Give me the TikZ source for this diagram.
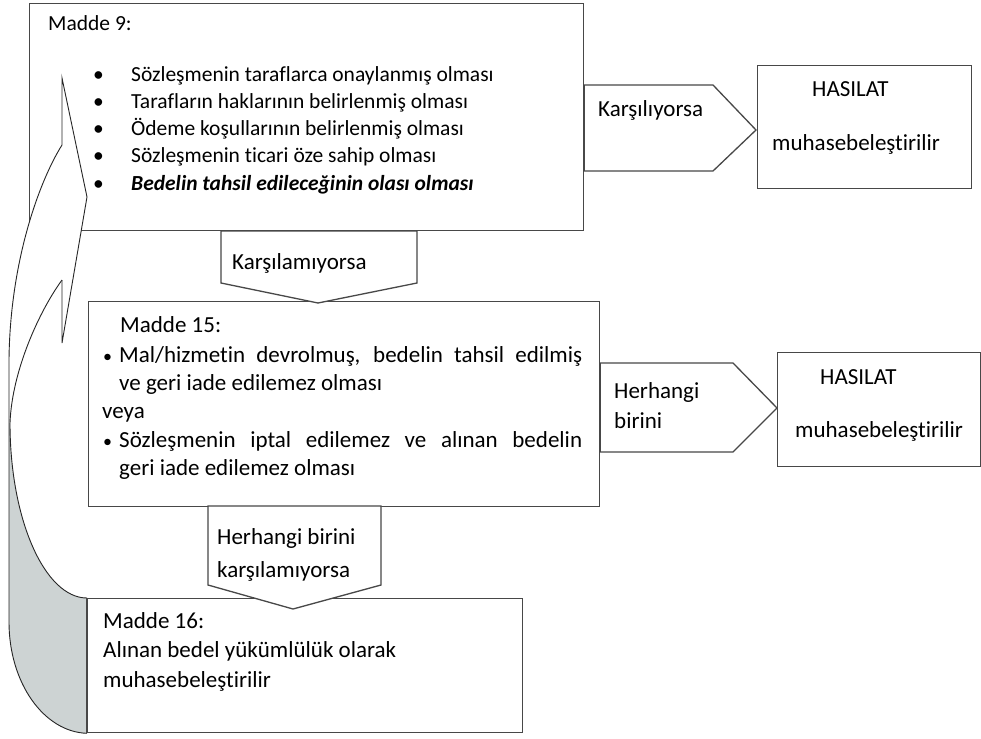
\documentclass[tikz,border=0pt]{standalone}
\usepackage{fontspec}
\setmainfont{Carlito}[Ligatures={NoCommon}]
\definecolor{lc}{RGB}{72,72,72}
\definecolor{gr}{RGB}{205,211,211}
\begin{document}
\begin{tikzpicture}[x=1pt,y=-1pt,
  box/.style={draw=lc, line width=1.3pt, fill=white, rectangle, inner sep=0pt, anchor=north west},
  barrow/.style={draw=lc, line width=1.3pt, fill=white, line join=miter},
  carrow/.style={draw=black!85, line width=0.9pt},
  txt/.style={anchor=base west, inner sep=0pt, font=\fontsize{23}{28}\selectfont},
  stxt/.style={anchor=base west, inner sep=0pt, font=\fontsize{21.5}{27}\selectfont}]
\useasboundingbox (0,0) rectangle (981,738);
\fill[white] (0,0) rectangle (981,738);
% boxes
\node[box, minimum width=554pt, minimum height=227pt] (m9) at (29,3) {};
\node[box, minimum width=214pt, minimum height=123pt] (h1) at (757,65) {};
\node[box, minimum width=511pt, minimum height=205pt] (m15) at (88,301) {};
\node[box, minimum width=203pt, minimum height=114pt] (h2) at (777,352) {};
\node[box, minimum width=435pt, minimum height=134pt] (m16) at (87,598) {};
% block arrows
\draw[barrow] (m9.east |- 0,85) -- (713,85) -- (756,130) -- (713,171) -- (m9.east |- 0,171) -- cycle;
\draw[barrow] (221,231) -- (417,231) -- (417,283) -- (318,303) -- (221,283) -- cycle;
\draw[barrow] (m15.east |- 0,363) -- (733,363) -- (777,408) -- (733,452) -- (m15.east |- 0,452) -- cycle;
\draw[barrow] (208,506) -- (381,506) -- (381,585) -- (293,609) -- (208,585) -- cycle;
% curved arrow
\fill[white] (62,145) -- (62,78) -- (87,197) -- (62,343) -- (62,280)
  .. controls (40,310) and (12,370) .. (10,423) -- (9,423) -- (9,360)
  .. controls (10,260) and (40,180) .. (62,145) -- cycle;
\fill[gr] (10,423) .. controls (10,520) and (45,598) .. (m16.north west)
  -- (m16.south west) .. controls (44,732) and (9,683) .. (9,622) -- (9,423) -- cycle;
\draw[carrow] (62,145) .. controls (40,180) and (10,260) .. (9,360) -- (9,622)
  .. controls (9,683) and (44,732) .. (m16.south west);
\draw[carrow] (62,280) .. controls (40,310) and (12,370) .. (10,423)
  .. controls (10,520) and (45,598) .. (m16.north west);
\draw[carrow, line join=miter] (62,145) -- (62,78) -- (87,197) -- (62,343) -- (62,280);
\draw[draw=lc, line width=1.3pt] (m16.north west) -- (m16.south west);
% texts Madde 9
\node[stxt] (t9) at (48,31) {Madde 9:};
\node[stxt] (b1) at (93,82) {•};
\node[stxt] (b2) at (93,109) {•};
\node[stxt] (b3) at (93,136) {•};
\node[stxt] (b4) at (93,163) {•};
\node[stxt] (b5) at (93,190) {•};
\node[stxt] (i1) at (131,82) {Sözleşmenin taraflarca onaylanmış olması};
\node[stxt] (i2) at (131,109) {Tarafların haklarının belirlenmiş olması};
\node[stxt] (i3) at (131,136) {Ödeme koşullarının belirlenmiş olması};
\node[stxt] (i4) at (131,163) {Sözleşmenin ticari öze sahip olması};
\node[stxt] (i5) at (131,190) {\bfseries\itshape Bedelin tahsil edileceğinin olası olması};
% right arrow texts
\node[txt] (k1) at (598,117) {Karşılıyorsa};
\node[txt] (hs1) at (812,97) {HASILAT};
\node[txt] (mu1) at (772,151) {muhasebeleştirilir};
\node[txt] (k2) at (232,269) {Karşılamıyorsa};
% Madde 15
\node[txt] (t15) at (120,332) {Madde 15:};
\node[txt] (c1) at (103,362) {\fontsize{18}{20}\selectfont •};
\node[txt] (l1) at (119,362) {\makebox[463pt][s]{Mal/hizmetin devrolmuş, bedelin tahsil edilmiş}};
\node[txt] (l2) at (119,390) {ve geri iade edilemez olması};
\node[txt] (l3) at (102,418) {veya};
\node[txt] (c2) at (103,447) {\fontsize{18}{20}\selectfont •};
\node[txt] (l4) at (119,447) {\makebox[463pt][s]{Sözleşmenin iptal edilemez ve alınan bedelin}};
\node[txt] (l5) at (119,475) {geri iade edilemez olması};
\node[txt] (r1) at (614,398) {Herhangi};
\node[txt] (r2) at (614,428) {birini};
\node[txt] (hs2) at (820,384) {HASILAT};
\node[txt] (mu2) at (795,437) {muhasebeleştirilir};
\node[txt] (d1) at (217,544) {Herhangi birini};
\node[txt] (d2) at (217,577) {karşılamıyorsa};
% Madde 16
\node[txt] (t16) at (103,628) {Madde 16:};
\node[txt] (n1) at (103,657) {Alınan bedel yükümlülük olarak};
\node[txt] (n2) at (103,687) {muhasebeleştirilir};
\end{tikzpicture}
\end{document}
